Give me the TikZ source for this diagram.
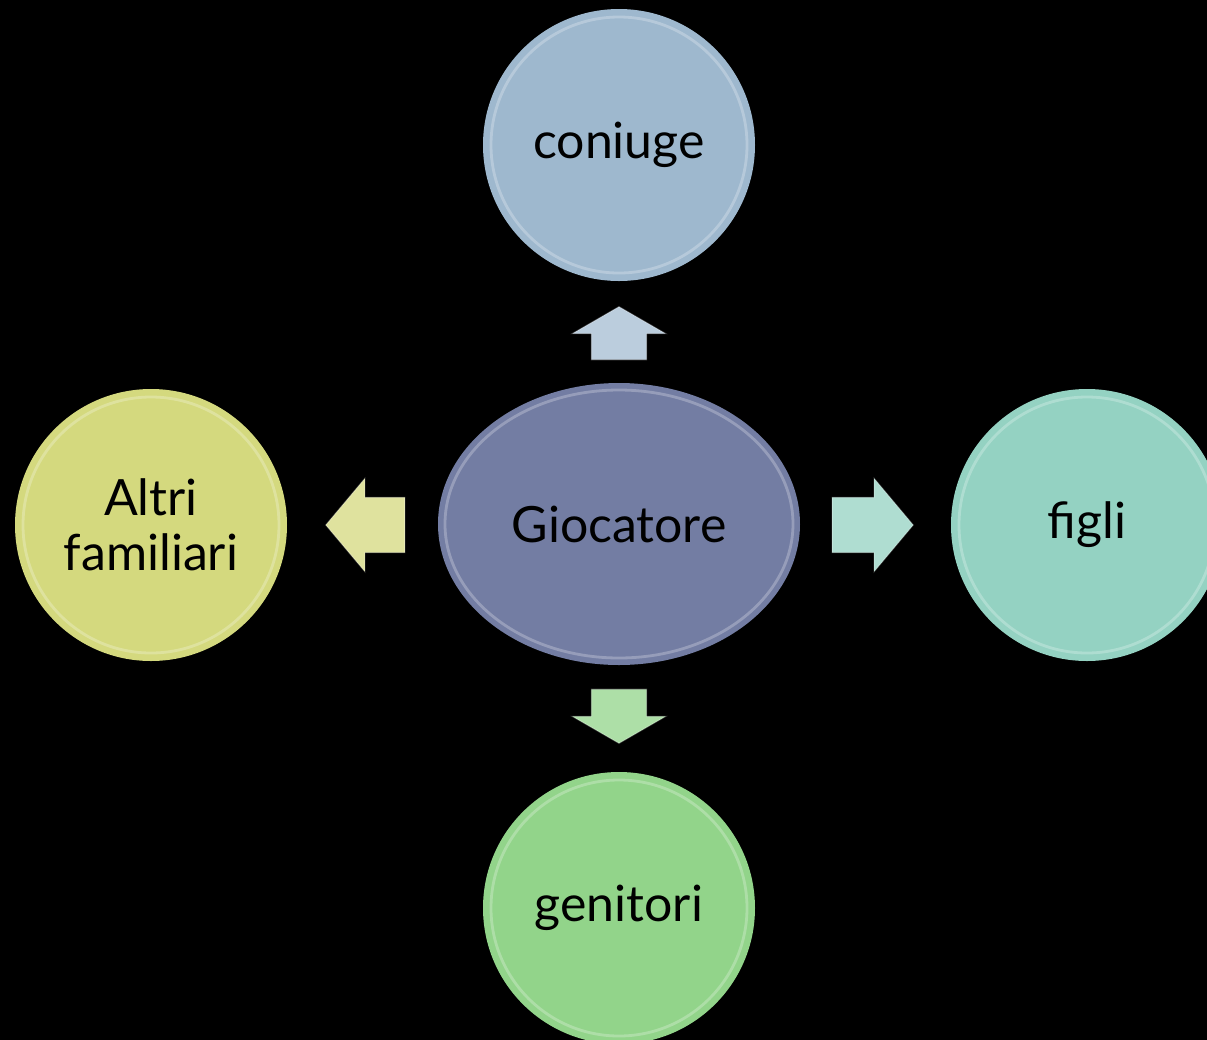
\documentclass[tikz,border=0pt]{standalone}
\usepackage{fontspec}
\setmainfont{Lato}
\usetikzlibrary{shapes.geometric,shapes.arrows}
\definecolor{giocol}{RGB}{115,125,163}
\definecolor{concol}{RGB}{158,184,206}
\definecolor{altcol}{RGB}{212,217,126}
\definecolor{figcol}{RGB}{148,210,194}
\definecolor{gencol}{RGB}{146,212,138}
\begin{document}
\begin{tikzpicture}[x=0.5pt,y=-0.5pt,
    bubble/.style={circle,minimum size=136pt,inner sep=0pt,align=center,
      font=\fontsize{25}{27.5}\selectfont,
      path picture={\draw[white,opacity=.25,line width=1.4pt] (path picture bounding box.center) circle (64pt);}},
    blockarrow/.style={single arrow,anchor=tip,inner xsep=0pt,inner ysep=13.5pt,
      single arrow head extend=9.5pt,draw=white,draw opacity=.25,line width=.6pt}]
  \fill[black] (0,0) rectangle (1207,1040);
  \clip (0,0) rectangle (1207,1040);
  \node[ellipse,fill=giocol,minimum width=181pt,minimum height=141pt,inner sep=0pt,
    font=\fontsize{25}{27.5}\selectfont,
    path picture={\draw[white,opacity=.25,line width=1.4pt] (path picture bounding box.center) ellipse (87pt and 67pt);}]
    (gio) at (619,524) {Giocatore};
  \node[bubble,fill=concol] (con) at (619,145) {coniuge};
  \node[bubble,fill=altcol] (alt) at (151,525) {Altri\\familiari};
  \node[bubble,fill=figcol] (fig) at (1087,525) {figli};
  \node[bubble,fill=gencol] (gen) at (619,908) {genitori};
  \node[blockarrow,fill=concol!70!white,rotate=90,minimum height=26.5pt,single arrow tip angle=120] (aup) at (619,306) {};
  \node[blockarrow,fill=altcol!75!white,rotate=180,minimum height=39.5pt,single arrow tip angle=100] (aleft) at (325,525) {};
  \node[blockarrow,fill=figcol!75!white,minimum height=40.5pt,single arrow tip angle=100] (aright) at (914,525) {};
  \node[blockarrow,fill=gencol!75!white,rotate=-90,minimum height=27pt,single arrow tip angle=120] (adown) at (619,744) {};
\end{tikzpicture}
\end{document}
